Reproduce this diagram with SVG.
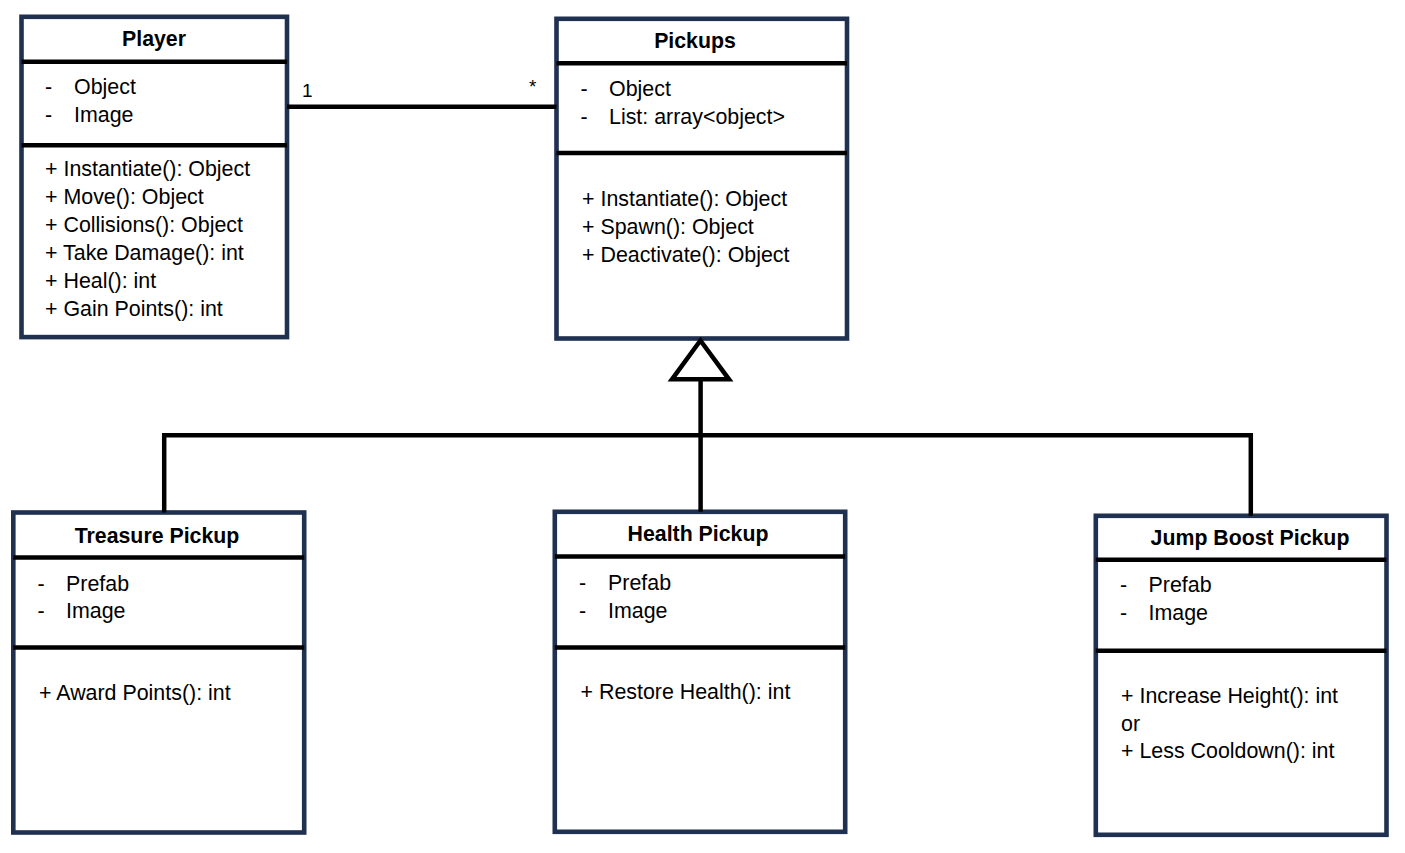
<svg xmlns="http://www.w3.org/2000/svg" width="1405" height="853" viewBox="0 0 1405 853">
<style>
.box{fill:#ffffff;stroke:#1F3050;stroke-width:4.6}
.div{stroke:#000000;stroke-width:4.6}
.con{stroke:#000000;stroke-width:4.5;fill:none}
text{font-family:"Liberation Sans",Arial,sans-serif;font-size:21.4px;fill:#000000}
.t{font-weight:bold;text-anchor:middle;font-size:21.3px}
.m{font-size:19px}
</style>
<rect width="1405" height="853" fill="#ffffff"/>
<g id="player">
<rect class="box" x="21.5" y="16.8" width="265.5" height="320.3"/>
<line class="div" x1="21.5" y1="61.7" x2="287" y2="61.7"/>
<line class="div" x1="21.5" y1="145.3" x2="287" y2="145.3"/>
<text class="t" x="154" y="45.7">Player</text>
<text x="45" y="94.3">-</text><text x="74" y="94.3">Object</text>
<text x="45" y="122.3">-</text><text x="74" y="122.3">Image</text>
<text x="45" y="175.7">+ Instantiate(): Object</text>
<text x="45" y="203.8">+ Move(): Object</text>
<text x="45" y="231.9">+ Collisions(): Object</text>
<text x="45" y="260">+ Take Damage(): int</text>
<text x="45" y="288.1">+ Heal(): int</text>
<text x="45" y="316.2">+ Gain Points(): int</text>
</g>
<g id="pickups">
<rect class="box" x="556.5" y="18.8" width="290.5" height="319.7"/>
<line class="div" x1="556.5" y1="63.3" x2="847" y2="63.3"/>
<line class="div" x1="556.5" y1="153" x2="847" y2="153"/>
<text class="t" x="695" y="47.7">Pickups</text>
<text x="580.5" y="96">-</text><text x="609" y="96">Object</text>
<text x="580.5" y="124">-</text><text x="609" y="124">List: array&lt;object&gt;</text>
<text x="582" y="206">+ Instantiate(): Object</text>
<text x="582" y="234">+ Spawn(): Object</text>
<text x="582" y="262">+ Deactivate(): Object</text>
</g>
<g id="treasure">
<rect class="box" x="13.3" y="512.5" width="290.9" height="320"/>
<line class="div" x1="13.3" y1="557.5" x2="304.2" y2="557.5"/>
<line class="div" x1="13.3" y1="647.5" x2="304.2" y2="647.5"/>
<text class="t" x="157" y="543.3">Treasure Pickup</text>
<text x="37.5" y="590.7">-</text><text x="66" y="590.7">Prefab</text>
<text x="37.5" y="618.3">-</text><text x="66" y="618.3">Image</text>
<text x="39" y="700">+ Award Points(): int</text>
</g>
<g id="health">
<rect class="box" x="554.8" y="511.8" width="290.4" height="320"/>
<line class="div" x1="554.8" y1="556.5" x2="845.2" y2="556.5"/>
<line class="div" x1="554.8" y1="647.5" x2="845.2" y2="647.5"/>
<text class="t" x="698" y="540.7">Health Pickup</text>
<text x="579" y="590">-</text><text x="608" y="590">Prefab</text>
<text x="579" y="617.7">-</text><text x="608" y="617.7">Image</text>
<text x="580.5" y="699.3">+ Restore Health(): int</text>
</g>
<g id="jumpboost">
<rect class="box" x="1095.8" y="515.8" width="290.7" height="319"/>
<line class="div" x1="1095.8" y1="559.7" x2="1386.5" y2="559.7"/>
<line class="div" x1="1095.8" y1="650.8" x2="1386.5" y2="650.8"/>
<text class="t" x="1250" y="545">Jump Boost Pickup</text>
<text x="1120" y="592.3">-</text><text x="1148.5" y="592.3">Prefab</text>
<text x="1120" y="620">-</text><text x="1148.5" y="620">Image</text>
<text x="1121" y="702.7">+ Increase Height(): int</text>
<text x="1121" y="730.5">or</text>
<text x="1121" y="758.3">+ Less Cooldown(): int</text>
</g>
<g id="connectors">
<line class="con" x1="287" y1="106.8" x2="556.5" y2="106.8"/>
<text class="m" x="302" y="96.7">1</text>
<text class="m" x="529" y="93">*</text>
<line class="con" x1="700.6" y1="379" x2="700.6" y2="511.8"/>
<line class="con" x1="162" y1="435.3" x2="1253" y2="435.3"/>
<line class="con" x1="164.2" y1="435.3" x2="164.2" y2="512.5"/>
<line class="con" x1="1250.8" y1="435.3" x2="1250.8" y2="515.8"/>
<polygon class="con" points="700.4,340.5 672,379.3 729,379.3" style="fill:#ffffff"/>
</g>
</svg>
